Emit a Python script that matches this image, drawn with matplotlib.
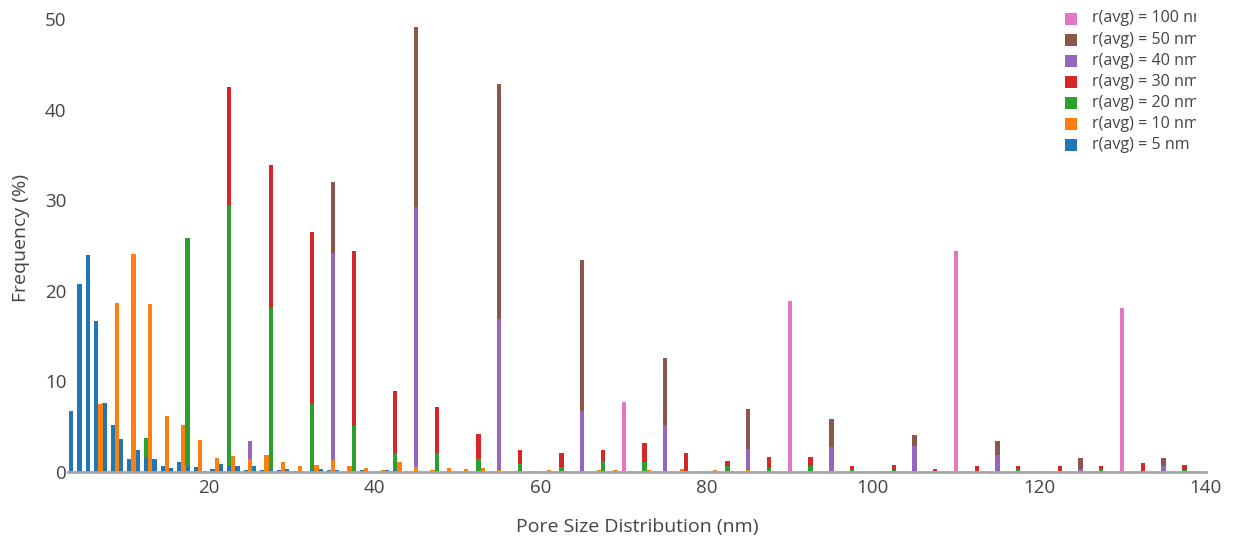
import matplotlib
matplotlib.use("Agg")
import matplotlib.pyplot as plt
from matplotlib.patches import Rectangle

plt.rcParams['font.family'] = ['Open Sans', 'DejaVu Sans']

# ---------------- data ----------------
labels = ["r(avg) = 5 nm", "r(avg) = 10 nm", "r(avg) = 20 nm", "r(avg) = 30 nm",
          "r(avg) = 40 nm", "r(avg) = 50 nm", "r(avg) = 100 nm"]
colors = ["#1f77b4", "#ff7f0e", "#2ca02c", "#d62728", "#9467bd", "#8c564b", "#e377c2"]

x_5 = [3.5, 4.5, 5.5, 6.5, 7.5, 8.5, 9.5, 10.5, 11.5, 12.5, 13.5, 14.5, 15.5, 16.5,
       17.5, 18.5, 19.5, 20.5, 21.5, 22.5, 23.5, 24.5, 25.5, 26.5, 27.5, 28.5, 29.5,
       30.5, 31.5, 32.5, 33.5, 34.5, 35.5, 36.5, 37.5, 38.5, 39.5, 40.5, 41.5, 42.5]
y_5 = [6.7, 20.7, 24.0, 16.7, 7.65, 5.2, 3.6, 1.4, 2.4, 1.6, 1.4, 0.66, 0.44, 1.1,
       0.66, 0.55, 0.1, 0.33, 0.9, 0.66, 0.66, 0.22, 0.66, 0.22, 0.22, 0.22, 0.33,
       0.1, 0.0, 0.22, 0.33, 0.22, 0.22, 0.0, 0.0, 0.22, 0.0, 0.0, 0.22, 0.22]

x_10 = [7, 9, 11, 13, 15, 17, 19, 21, 23, 25, 27, 29, 31, 33, 35, 37, 39, 41, 43, 45,
        47, 49, 51, 53, 55, 57, 59, 61, 63, 65, 67, 69, 71, 73, 75, 77, 79, 81, 83, 85]
y_10 = [7.47, 18.6, 24.1, 18.5, 6.2, 5.2, 3.5, 1.55, 1.77, 1.4, 1.88, 1.1, 0.66, 0.77,
        1.35, 0.66, 0.44, 0.22, 1.1, 0.55, 0.22, 0.44, 0.33, 0.44, 0.22, 0.1, 0.1, 0.22,
        0.1, 0.1, 0.22, 0.22, 0.1, 0.22, 0.1, 0.33, 0.0, 0.22, 0.1, 0.22]

x_20 = [12.5, 17.5, 22.5, 27.5, 32.5, 37.5, 42.5, 47.5, 52.5, 57.5, 62.5, 67.5, 72.5,
        77.5, 82.5, 87.5, 92.5, 97.5, 102.5, 107.5, 112.5, 117.5, 122.5, 127.5, 132.5, 137.5]
y_20 = [2.15, 25.2, 28.8, 17.9, 7.25, 5.1, 1.85, 2.05, 1.4, 0.93, 0.57, 1.2, 1.12,
        0.1, 0.68, 0.46, 0.66, 0.26, 0.26, 0.0, 0.0, 0.33, 0.1, 0.33, 0.1, 0.22]

x_30 = x_20
y_30 = [0.0, 0.0, 13.0, 15.8, 19.0, 19.3, 6.85, 5.15, 2.76, 1.5, 1.5, 1.2, 2.08,
        2.0, 0.52, 1.2, 0.97, 0.4, 0.51, 0.33, 0.66, 0.33, 0.56, 0.33, 0.9, 0.55]

x_40 = [25, 35, 45, 55, 65, 75, 85, 95, 105, 115, 125, 135]
y_40 = [2.0, 22.85, 28.65, 16.63, 6.6, 5.1, 2.28, 2.8, 2.88, 1.9, 0.33, 0.66]

x_50 = x_40
y_50 = [0.0, 7.8, 19.95, 25.95, 16.7, 7.4, 4.5, 3.0, 1.17, 1.5, 1.22, 0.89]

x_100 = [70, 90, 110, 130]
y_100 = [7.7, 18.9, 24.4, 18.1]

series_x = [x_5, x_10, x_20, x_30, x_40, x_50, x_100]
series_y = [y_5, y_10, y_20, y_30, y_40, y_50, y_100]

x_ticks = [20, 40, 60, 80, 100, 120, 140]
y_ticks = [0, 10, 20, 30, 40, 50]

# ---------------- figure ----------------
W, H = 1234, 543
fig = plt.figure(figsize=(W / 100, H / 100), dpi=100)
left, right, top, bottom = 68, 1206, 3.5, 472
ax = fig.add_axes([left / W, 1 - bottom / H, (right - left) / W, (bottom - top) / H])

bar_w = 0.52
base = {}
for xs, ys, c in zip(series_x, series_y, colors):
    bots = [base.get(x, 0.0) for x in xs]
    ax.bar(xs, ys, width=bar_w, bottom=bots, color=c, linewidth=0)
    for x, y in zip(xs, ys):
        base[x] = base.get(x, 0.0) + y

ax.set_xlim(3.1, 140.1)
ax.set_ylim(0, 51.7)
ax.set_xticks(x_ticks)
ax.set_yticks(y_ticks)
for s in ['top', 'right', 'left']:
    ax.spines[s].set_visible(False)
ax.spines['bottom'].set_color('#a6a6a6')
ax.spines['bottom'].set_linewidth(2)
ax.tick_params(length=0, labelsize=13.5, colors='#444444')
ax.tick_params(axis='x', pad=5)
ax.tick_params(axis='y', pad=1)
ax.set_xlabel("Pore Size Distribution (nm)", fontsize=14, color='#444444', labelpad=15)
ax.set_ylabel("Frequency (%)", fontsize=14, color='#444444', labelpad=11)

# legend (manual, reversed order, clipped at right edge like the reference)
lx0, lx1 = 1055, 1196
lax = fig.add_axes([lx0 / W, 0, (lx1 - lx0) / W, 1])
lax.set_axis_off()
lax.set_xlim(lx0, lx1)
lax.set_ylim(H, 0)
ys0 = 18.5
for i, (lab, c) in enumerate(zip(labels[::-1], colors[::-1])):
    yc = ys0 + i * 21.1
    lax.add_patch(Rectangle((1065, yc - 6), 12, 12, facecolor=c, edgecolor='none'))
    lax.text(1092, yc, lab, fontsize=11.6, color='#444444', va='center', ha='left',
             clip_on=True)

fig.savefig("out.png", dpi=100)
